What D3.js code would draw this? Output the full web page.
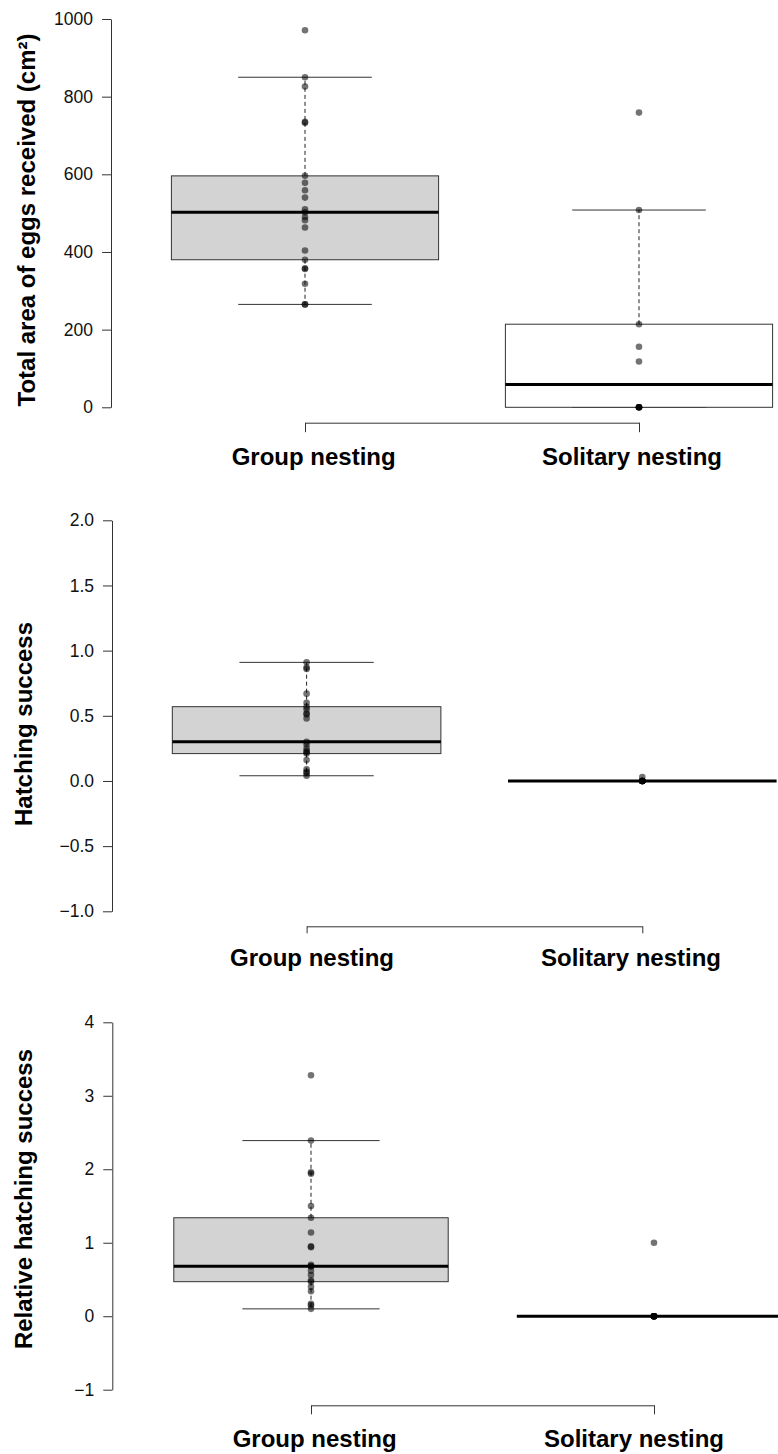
<!DOCTYPE html>
<html>
<head>
<meta charset="utf-8">
<script src="https://cdn.jsdelivr.net/npm/d3@7"></script>
<style>
  body { margin: 0; background: #fff; }
  svg { display: block; font-family: "Liberation Sans", Arial, Helvetica, sans-serif; }
</style>
</head>
<body>
<div id="chart"></div>
<script>
// categories on the x axis
const categories = ['Group nesting', 'Solitary nesting'];

// panel 1: total area of eggs received (cm2)
const eggAreaGroup = [971, 850, 826, 735, 733, 596, 578, 559, 540, 510, 502, 490, 482, 463, 404, 380, 358, 356, 318, 265, 265];
const eggAreaSolitary = [759, 508, 214, 156, 118, 0, 0, 0, 0, 0];
const eggAreaTicks = [0, 200, 400, 600, 800, 1000];

// panel 2: hatching success
const hatchGroup = [0.91, 0.87, 0.86, 0.67, 0.60, 0.57, 0.55, 0.52, 0.51, 0.48, 0.30, 0.28, 0.25, 0.23, 0.22, 0.21, 0.16, 0.09, 0.07, 0.06, 0.04];
const hatchSolitary = [0.03, 0, 0, 0, 0, 0, 0, 0, 0, 0];
const hatchTicks = [-1, -0.5, 0, 0.5, 1, 1.5, 2];

// panel 3: relative hatching success
const relHatchGroup = [3.28, 2.39, 1.96, 1.94, 1.50, 1.34, 1.14, 0.95, 0.94, 0.70, 0.68, 0.68, 0.62, 0.56, 0.49, 0.47, 0.40, 0.34, 0.17, 0.15, 0.10];
const relHatchSolitary = [1.0, 0, 0, 0, 0, 0, 0, 0, 0, 0];
const relHatchTicks = [-1, 0, 1, 2, 3, 4];

const width = 778, height = 1454;

const panels = [
  { title: 'Total area of eggs received (cm²)', values: [eggAreaGroup, eggAreaSolitary], ticks: eggAreaTicks, fmt: d3.format('d'),
    yRange: [407.3, 19], axisX: 111, xRange: [305, 639], bracketY: 422.7, bracketTick: 9.5,
    labelY: 465, labelX: [313.7, 632], titleX: 34.7, titleY: 220 },
  { title: 'Hatching success', values: [hatchGroup, hatchSolitary], ticks: hatchTicks, fmt: d3.format('.1f'),
    yRange: [911.3, 520.3], axisX: 112, xRange: [306.6, 642.3], bracketY: 926.3, bracketTick: 7,
    labelY: 965.5, labelX: [312, 631], titleX: 31.5, titleY: 724 },
  { title: 'Relative hatching success', values: [relHatchGroup, relHatchSolitary], ticks: relHatchTicks, fmt: d3.format('d'),
    yRange: [1389.7, 1022.3], axisX: 112.3, xRange: [311, 654], bracketY: 1405.3, bracketTick: 9,
    labelY: 1447, labelX: [314.7, 634], titleX: 31.5, titleY: 1199 }
];

// Tukey hinges, same as R's fivenum / boxplot.stats
function boxStats(values) {
  const x = values.slice().sort(d3.ascending);
  const n = x.length;
  const n4 = Math.floor((n + 3) / 2) / 2;
  const at = p => 0.5 * (x[Math.floor(p) - 1] + x[Math.ceil(p) - 1]);
  const q1 = at(n4), med = at((n + 1) / 2), q3 = at(n + 1 - n4);
  const iqr = q3 - q1;
  const lo = d3.min(x.filter(v => v >= q1 - 1.5 * iqr));
  const hi = d3.max(x.filter(v => v <= q3 + 1.5 * iqr));
  return { q1, med, q3, lo, hi };
}

const svg = d3.select('#chart').append('svg')
  .attr('width', width)
  .attr('height', height);

const boxFill = ['#d3d3d3', '#ffffff'];

panels.forEach(p => {
  const g = svg.append('g');
  const y = d3.scaleLinear()
    .domain(d3.extent(p.ticks))
    .range(p.yRange);
  const x = d3.scalePoint()
    .domain(categories)
    .range(p.xRange);
  const boxW = 0.8 * (p.xRange[1] - p.xRange[0]);

  // y axis
  const yAxis = g.append('g')
    .attr('transform', `translate(${p.axisX},0)`)
    .call(d3.axisLeft(y).tickValues(p.ticks).tickFormat(p.fmt).tickSize(9).tickSizeOuter(0).tickPadding(9));
  yAxis.select('.domain').attr('stroke', '#333');
  yAxis.selectAll('.tick line').attr('stroke', '#333');
  yAxis.selectAll('.tick text')
    .attr('fill', '#111')
    .style('font-size', '17.5px')
    .style('font-family', '"Liberation Sans", Arial, sans-serif');

  // y title
  g.append('text')
    .attr('transform', `translate(${p.titleX},${p.titleY}) rotate(-90)`)
    .attr('text-anchor', 'middle')
    .style('font-size', '24px')
    .style('font-weight', 'bold')
    .text(p.title);

  // x bracket axis
  const xAxis = g.append('g')
    .attr('transform', `translate(0,${p.bracketY})`)
    .call(d3.axisBottom(x).tickSize(p.bracketTick).tickSizeOuter(0).tickFormat(''));
  xAxis.select('.domain').attr('stroke', '#333');
  xAxis.selectAll('.tick line').attr('stroke', '#333');

  categories.forEach((c, i) => {
    g.append('text')
      .attr('x', p.labelX[i])
      .attr('y', p.labelY)
      .attr('text-anchor', 'middle')
      .style('font-size', '24px')
      .style('font-weight', 'bold')
      .text(c);
  });

  // boxes
  categories.forEach((c, i) => {
    const s = boxStats(p.values[i]);
    const cx = x(c);
    const bg = g.append('g');

    bg.append('line')
      .attr('x1', cx).attr('x2', cx)
      .attr('y1', y(s.q3)).attr('y2', y(s.hi))
      .attr('stroke', '#222').attr('stroke-dasharray', '4,3');
    bg.append('line')
      .attr('x1', cx).attr('x2', cx)
      .attr('y1', y(s.q1)).attr('y2', y(s.lo))
      .attr('stroke', '#222').attr('stroke-dasharray', '4,3');

    [s.hi, s.lo].forEach(v => {
      bg.append('line')
        .attr('x1', cx - boxW / 4).attr('x2', cx + boxW / 4)
        .attr('y1', y(v)).attr('y2', y(v))
        .attr('stroke', '#333');
    });

    bg.append('rect')
      .attr('x', cx - boxW / 2)
      .attr('y', y(s.q3))
      .attr('width', boxW)
      .attr('height', y(s.q1) - y(s.q3))
      .attr('fill', boxFill[i])
      .attr('stroke', '#333');

    bg.append('line')
      .attr('x1', cx - boxW / 2).attr('x2', cx + boxW / 2)
      .attr('y1', y(s.med)).attr('y2', y(s.med))
      .attr('stroke', '#000').attr('stroke-width', 3);
  });

  // raw points on top
  categories.forEach((c, i) => {
    g.append('g').selectAll('circle')
      .data(p.values[i])
      .join('circle')
      .attr('cx', x(c))
      .attr('cy', d => y(d))
      .attr('r', 3.3)
      .attr('fill', '#000')
      .attr('fill-opacity', 0.55);
  });
});
</script>
</body>
</html>
